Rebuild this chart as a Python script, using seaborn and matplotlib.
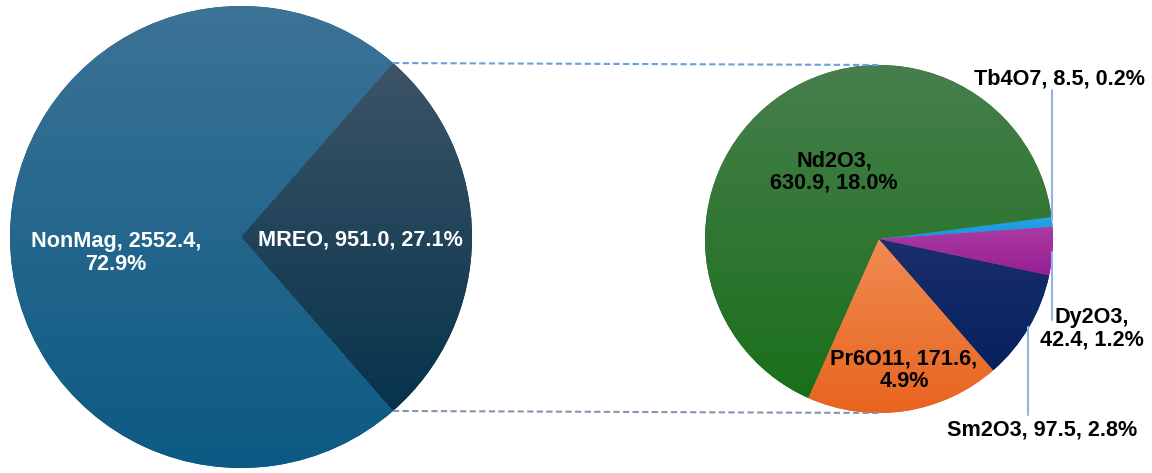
import numpy as np
import matplotlib
matplotlib.use("Agg")
import matplotlib.pyplot as plt
from matplotlib.colors import LinearSegmentedColormap
import seaborn as sns

# main pie: magnet rare earth oxides vs non-magnet
main_names = ["MREO", "NonMag"]
main_values = [951.0, 2552.4]

# breakdown of MREO (counter-clockwise order as drawn)
sub_names = ["Tb4O7", "Nd2O3", "Pr6O11", "Sm2O3", "Dy2O3"]
sub_values = [8.5, 630.9, 171.6, 97.5, 42.4]

# (top, bottom) gradient colours per slice
main_grad = [("#3c5467", "#06334b"), ("#3c7396", "#0c5a84")]
sub_grad = [("#25a6e8", "#1893d8"), ("#477f4c", "#1a6f1b"),
            ("#f08b52", "#e8641f"), ("#1b2f6c", "#06205f"),
            ("#aa3ca2", "#981e94")]

sns.set_theme(style="white")
plt.rcParams["font.family"] = ["Liberation Sans", "DejaVu Sans"]

W, H = 1152, 473
fig = plt.figure(figsize=(W / 100, H / 100), dpi=100)
ax = fig.add_axes([0, 0, 1, 1])

total = sum(main_values)


def label(name, value, sep1=" ", sep2=" "):
    return f"{name},{sep1}{value:.1f},{sep2}{value / total * 100:.1f}%"


def shade(wedges, grads):
    # vertical gradient fill, clipped to each wedge
    ramp = np.linspace(0, 1, 256).reshape(-1, 1)
    for w, (top, bot) in zip(wedges, grads):
        w.set_facecolor(bot)
        bb = w.get_path().get_extents()
        cmap = LinearSegmentedColormap.from_list("g", [top, bot])
        im = ax.imshow(ramp, cmap=cmap, origin="upper", aspect="auto",
                       extent=[bb.x0, bb.x1, bb.y0, bb.y1], zorder=1.5)
        im.set_clip_path(w)


# left pie, MREO wedge centred on the right-hand side
c1, r1 = (241, H - 237), 231
half = main_values[0] / total * 180
w1, _ = ax.pie(main_values, startangle=-half, radius=r1, center=c1,
               wedgeprops=dict(linewidth=0), frame=True)
shade(w1, main_grad)

# right pie
c2, r2 = (879, H - 239), 174
w2, _ = ax.pie(sub_values, startangle=4, radius=r2, center=c2,
               wedgeprops=dict(linewidth=0), frame=True)
shade(w2, sub_grad)

# dashed connectors from the MREO wedge to the breakdown pie
t = np.deg2rad(half)
for sgn, col in [(1, "#6c9fdc"), (-1, "#8893ae")]:
    x0 = c1[0] + r1 * np.cos(t)
    y0 = c1[1] + sgn * r1 * np.sin(t)
    ax.plot([x0, c2[0]], [y0, c2[1] + sgn * r2], color=col, lw=1.5,
            linestyle=(0, (3, 1.6)), zorder=2)

fs = 15.6
txt = dict(fontsize=fs, fontweight="bold", ha="center", va="center",
           linespacing=1.1, zorder=4)

ax.text(116, H - 253, label("NonMag", main_values[1], sep2="\n"), color="white", **txt)
ax.text(360, H - 240, label("MREO", main_values[0]), color="white", **txt)

ax.text(834, H - 172, label("Nd2O3", sub_values[1], sep1="\n"), color="black", **txt)
ax.text(904, H - 370, label("Pr6O11", sub_values[2], sep2="\n"), color="black", **txt)
ax.text(1059, H - 79, label("Tb4O7", sub_values[0]), color="black", **txt)
ax.text(1092, H - 329, label("Dy2O3", sub_values[4], sep1="\n"), color="black", **txt)
ax.text(1042, H - 430, label("Sm2O3", sub_values[3]), color="black", **txt)

# leader lines
lead = "#8db4e2"
ax.plot([1052, 1052], [H - 90, H - 220], color=lead, lw=1.5, zorder=3)
ax.plot([1052, 1052], [H - 252, H - 320], color=lead, lw=1.5, zorder=3)
ax.plot([1028, 1028], [H - 327, H - 415], color=lead, lw=1.5, zorder=3)

ax.set_xlim(0, W)
ax.set_ylim(0, H)
ax.set_aspect("equal")
ax.axis("off")

fig.savefig("out.png", dpi=100)
